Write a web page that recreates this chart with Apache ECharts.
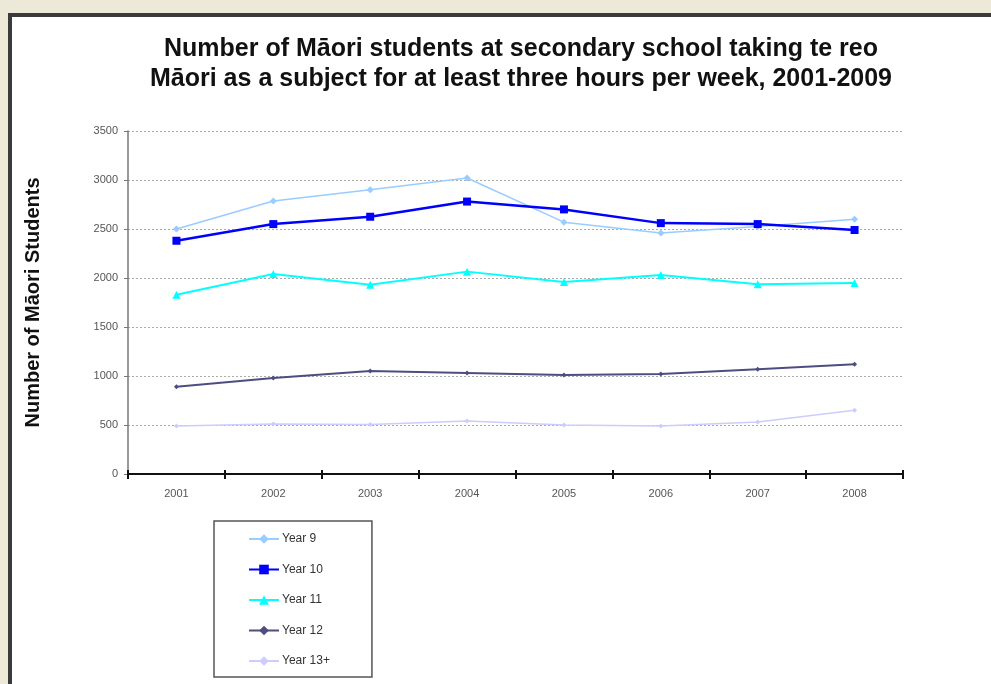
<!DOCTYPE html>
<html>
<head>
<meta charset="utf-8">
<script src="https://cdn.jsdelivr.net/npm/echarts@6/dist/echarts.min.js"></script>
<style>
  html, body { margin: 0; padding: 0; background: #ece9d8; }
  .frame {
    position: absolute; left: 8px; top: 13px; width: 983px; height: 671px;
    border-left: 4px solid #3a3a3a; border-top: 4px solid #3a3a3a;
    background: #fff; box-sizing: border-box;
  }
  #chart { position: absolute; left: 0; top: 0; width: 991px; height: 684px; }
</style>
</head>
<body>
<div class="frame"></div>
<div id="chart"></div>
<script>
var years = ["2001", "2002", "2003", "2004", "2005", "2006", "2007", "2008"];
var year9 = [2500, 2785, 2900, 3020, 2570, 2460, 2525, 2600];
var year10 = [2380, 2550, 2625, 2780, 2700, 2560, 2550, 2490];
var year11 = [1830, 2040, 1930, 2065, 1960, 2030, 1935, 1950];
var year12 = [890, 980, 1050, 1030, 1010, 1020, 1070, 1120];
var year13 = [490, 510, 505, 540, 500, 490, 530, 650];

var font = "'Liberation Sans', Arial, sans-serif";

function line(name, data, color, width, symbol, size) {
  return {
    name: name,
    type: "line",
    data: data,
    symbol: symbol,
    symbolSize: size,
    showAllSymbol: true,
    lineStyle: { color: color, width: width },
    itemStyle: { color: color },
    emphasis: { disabled: true }
  };
}

var chart = echarts.init(document.getElementById("chart"));
chart.setOption({
  animation: false,
  title: {
    text: "Number of Māori students at secondary school taking te reo\nMāori as a subject for at least three hours per week, 2001-2009",
    left: 516,
    textAlign: "center",
    top: 29,
    textStyle: {
      fontFamily: font,
      fontSize: 25,
      fontWeight: "bold",
      color: "#111",
      lineHeight: 30
    }
  },
  legend: {
    orient: "vertical",
    left: 214,
    top: 521,
    padding: [12, 42, 10, 34],
    itemWidth: 30,
    itemHeight: 12,
    itemGap: 18.5,
    backgroundColor: "#fff",
    borderColor: "#555",
    borderWidth: 1.5,
    textStyle: { fontFamily: font, fontSize: 12, color: "#333", padding: [0, 0, 0, -2] },
    data: ["Year 9", "Year 10", "Year 11", "Year 12", "Year 13+"]
  },
  grid: { left: 128, right: 88, top: 131, bottom: 210 },
  xAxis: [{
    type: "category",
    data: years,
    boundaryGap: true,
    axisLine: { lineStyle: { color: "#111", width: 2 } },
    axisTick: { show: true, length: 5, lineStyle: { color: "#111", width: 2 } },
    axisLabel: { fontFamily: font, fontSize: 11, color: "#555", margin: 14 }
  }, {
    type: "category",
    data: years,
    position: "bottom",
    boundaryGap: true,
    axisLine: { show: false },
    axisTick: { show: true, inside: true, length: 4, lineStyle: { color: "#111", width: 2 } },
    axisLabel: { show: false },
    splitLine: { show: false }
  }],
  yAxis: {
    type: "value",
    min: 0,
    max: 3500,
    interval: 500,
    name: "Number of Māori Students",
    nameLocation: "middle",
    nameGap: 85,
    nameTextStyle: { fontFamily: font, fontSize: 20, fontWeight: "bold", color: "#111" },
    axisLine: { show: true, lineStyle: { color: "#777", width: 1.5 } },
    axisTick: { show: true, length: 4, lineStyle: { color: "#777" } },
    axisLabel: { fontFamily: font, fontSize: 11, color: "#555", margin: 10, formatter: function (v) { return String(v); } },
    splitLine: { lineStyle: { color: "#aaa", type: [2, 2], width: 1 } }
  },
  series: [
    line("Year 9", year9, "#99ccff", 1.5, "diamond", 7),
    line("Year 10", year10, "#0000ff", 2.5, "rect", 8),
    line("Year 11", year11, "#00ffff", 2, "triangle", 8),
    line("Year 12", year12, "#4d4d80", 2, "diamond", 5),
    line("Year 13+", year13, "#ccccff", 1.5, "diamond", 5)
  ]
});
</script>
</body>
</html>
